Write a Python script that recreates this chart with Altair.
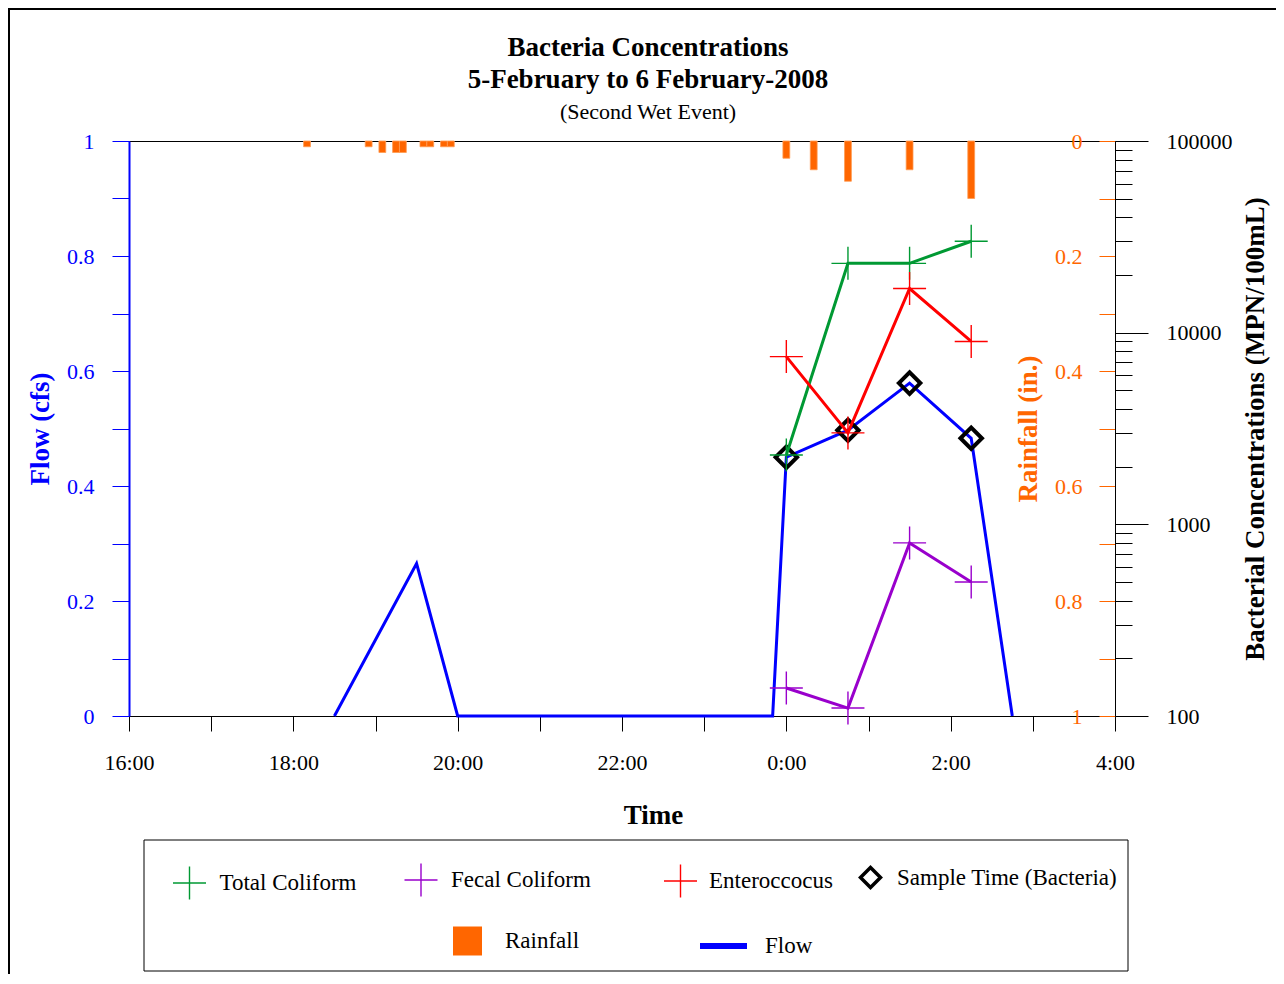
import altair as alt
import pandas as pd

# ---------------- data ----------------
flow_time = ["2008-02-05T18:30", "2008-02-05T19:30", "2008-02-05T20:00", "2008-02-05T23:50",
             "2008-02-06T00:00", "2008-02-06T00:45", "2008-02-06T01:30", "2008-02-06T02:15",
             "2008-02-06T02:45"]
flow_cfs = [0, 0.265, 0, 0, 0.45, 0.497, 0.579, 0.483, 0]

sample_time = ["2008-02-06T00:00", "2008-02-06T00:45", "2008-02-06T01:30", "2008-02-06T02:15"]
sample_flow = [0.45, 0.497, 0.579, 0.483]

total_coliform = [2300, 23000, 23000, 30000]
fecal_coliform = [140, 110, 800, 500]
enterococcus = [7500, 3000, 17000, 9000]

rain_time = ["2008-02-05T18:10", "2008-02-05T18:55", "2008-02-05T19:05", "2008-02-05T19:15",
             "2008-02-05T19:20", "2008-02-05T19:35", "2008-02-05T19:40", "2008-02-05T19:50",
             "2008-02-05T19:55", "2008-02-06T00:00", "2008-02-06T00:20", "2008-02-06T00:45",
             "2008-02-06T01:30", "2008-02-06T02:15"]
rain_in = [0.01, 0.01, 0.02, 0.02, 0.02, 0.01, 0.01, 0.01, 0.01, 0.03, 0.05, 0.07, 0.05, 0.10]

tick_hours = list(range(16, 29))
tenths = [round(i * 0.1, 1) for i in range(11)]
bact_major = [100, 1000, 10000, 100000]
bact_minor = [m * d for d in (100, 1000, 10000) for m in range(2, 10)]

# ---------------- styling ----------------
FONT = "Liberation Serif"
BLUE = "#0000FF"
ORANGE = "#FF6600"
GREEN = "#009933"
PURPLE = "#9900CC"
RED = "#FF0000"
CROSS = "M-1,0H1M0,-1V1"

W, H = 986, 575

rain_t = pd.to_datetime(pd.Series(rain_time))
rain_df = pd.DataFrame({
    "start": (rain_t - pd.Timedelta(minutes=2.5)).dt.strftime("%Y-%m-%dT%H:%M:%S"),
    "end": (rain_t + pd.Timedelta(minutes=2.5)).dt.strftime("%Y-%m-%dT%H:%M:%S"),
    "rain": rain_in,
    "series": "Rainfall",
})
flow_df = pd.DataFrame({"t": flow_time, "flow": flow_cfs, "series": "Flow"})
sample_df = pd.DataFrame({"t": sample_time, "flow": sample_flow, "series": "Sample Time (Bacteria)"})


def dt(h):
    return alt.DateTime(year=2008, month=2, date=5 + h // 24, hours=h % 24)


x_scale = alt.Scale(domain=[dt(16), dt(28)], padding=0)
x_axis = alt.Axis(
    values=[dt(h) for h in tick_hours],
    labelExpr="hours(datum.value) % 2 == 0 ? timeFormat(datum.value, '%-H:%M') : ''",
    tickSize=15, labelPadding=21, labelFlush=False, labelOverlap=False, grid=False,
    domainColor="black", tickColor="black", labelColor="black",
    title="Time", titleX=524, titleY=99, titleBaseline="middle", titleAlign="center",
)


def xenc(field):
    return alt.X(f"{field}:T", scale=x_scale, axis=x_axis)


def leg(x, y, **kw):
    return alt.Legend(orient="none", legendX=x, legendY=y, title=None, labelLimit=400, **kw)


# ---------------- rainfall ----------------
rain_axis = alt.Axis(
    orient="left", offset=-W, values=tenths, format="~g",
    labelExpr="round(datum.value * 10) % 2 == 0 ? datum.label : ''",
    tickSize=16, labelPadding=17, tickColor=ORANGE, labelColor=ORANGE, domain=False, grid=False,
    title="Rainfall (in.)", titleColor=ORANGE, titleX=-87, titleY=H / 2, titleAngle=270,
    titleAlign="center", titleBaseline="middle",
)
rain = alt.Chart(rain_df).mark_bar(color=ORANGE, stroke="#FF9A50", strokeWidth=0.8).encode(
    x=xenc("start"),
    x2="end:T",
    y=alt.Y("rain:Q", scale=alt.Scale(domain=[0, 1], reverse=True, nice=False, padding=0),
            axis=rain_axis),
    y2=alt.datum(0),
    color=alt.Color("series:N", scale=alt.Scale(domain=["Rainfall"], range=[ORANGE]),
                    legend=leg(324, 785.5, symbolType="square", symbolSize=841,
                               symbolStrokeWidth=0, labelOffset=23)),
)

# ---------------- flow ----------------
flow_axis = alt.Axis(
    orient="left", values=tenths, format="~g",
    labelExpr="round(datum.value * 10) % 2 == 0 ? datum.label : ''",
    tickSize=17, labelPadding=18, tickColor=BLUE, labelColor=BLUE, domainColor=BLUE, domainWidth=2,
    grid=False, title="Flow (cfs)", titleColor=BLUE, titleX=-89, titleY=H / 2, titleAngle=270,
    titleAlign="center", titleBaseline="middle",
)
flow_y = alt.Y("flow:Q", scale=alt.Scale(domain=[0, 1], nice=False, padding=0), axis=flow_axis)

flow_line = alt.Chart(flow_df).mark_line(strokeWidth=3).encode(
    x=xenc("t"),
    y=flow_y,
    color=alt.Color("series:N", scale=alt.Scale(domain=["Flow"], range=[BLUE]),
                    legend=leg(568, 778.5, symbolType="stroke", symbolSize=2209,
                               symbolStrokeWidth=6, labelOffset=15)),
)
diamonds = alt.Chart(sample_df).mark_point(shape="diamond", filled=False, size=460,
                                           strokeWidth=4, opacity=1).encode(
    x=xenc("t"),
    y=flow_y,
    color=alt.Color("series:N", scale=alt.Scale(domain=["Sample Time (Bacteria)"], range=["black"]),
                    legend=leg(729.5, 724.5, symbolType="diamond", symbolSize=400,
                               symbolStrokeWidth=3.5, labelOffset=14.5)),
)
flow_group = alt.layer(flow_line, diamonds).resolve_scale(color="independent")

# ---------------- bacteria ----------------
bact_scale = alt.Scale(type="log", domain=[100, 100000], nice=False, padding=0)
major_axis = alt.Axis(
    orient="right", values=bact_major, format="d", tickSize=33, labelPadding=18,
    tickColor="black", domainColor="black", labelColor="black", grid=False,
    title="Bacterial Concentrations (MPN/100mL)", titleX=140, titleY=H / 2, titleAngle=270,
    titleAlign="center", titleBaseline="middle",
)
minor_axis = alt.Axis(orient="right", values=bact_minor, tickSize=17, labels=False,
                      domain=False, grid=False, tickColor="black", title=None)

series = [
    ("Total Coliform", total_coliform, GREEN, 43, 724.5, 12.5),
    ("Fecal Coliform", fecal_coliform, PURPLE, 274.5, 721.5, 12.5),
    ("Enteroccocus", enterococcus, RED, 534, 722.5, 11),
]
bact_layers = []
for i, (name, vals, col, lx, ly, lo) in enumerate(series):
    df = pd.DataFrame({"t": sample_time, "mpn": vals, "series": name})
    ax_line = major_axis if i == 0 else None
    ax_pts = minor_axis if i == 0 else None
    line = alt.Chart(df).mark_line(color=col, strokeWidth=3).encode(
        x=xenc("t"),
        y=alt.Y("mpn:Q", scale=bact_scale, axis=ax_line),
    )
    pts = alt.Chart(df).mark_point(shape=CROSS, filled=False, size=1089, strokeWidth=1.4,
                                   opacity=1).encode(
        x=xenc("t"),
        y=alt.Y("mpn:Q", scale=bact_scale, axis=ax_pts),
        color=alt.Color("series:N", scale=alt.Scale(domain=[name], range=[col]),
                        legend=leg(lx, ly, symbolType=CROSS, symbolSize=1089,
                                   symbolStrokeWidth=1.4, labelOffset=lo)),
    )
    bact_layers += [line, pts]
bact_group = alt.layer(*bact_layers).resolve_scale(color="independent").resolve_axis(y="independent")

# ---------------- decorations ----------------
frame = alt.Chart(alt.Data(values=[{}])).mark_rect(fill="transparent", stroke="black",
                                                  strokeWidth=2).encode(
    x=alt.value(-120), x2=alt.value(1400), y=alt.value(-132), y2=alt.value(1200))
legend_box = alt.Chart(alt.Data(values=[{}])).mark_rect(fill="transparent", stroke="black",
                                                       strokeWidth=1).encode(
    x=alt.value(15), x2=alt.value(999), y=alt.value(699), y2=alt.value(830))

chart = alt.layer(frame, legend_box, rain, flow_group, bact_group).resolve_scale(
    y="independent", color="independent"
).properties(
    width=W, height=H,
    autosize=alt.AutoSizeParams(type="none"),
    padding={"left": 121, "top": 133, "right": 161, "bottom": 258},
    title=alt.TitleParams(
        text=["Bacteria Concentrations", "5-February to 6 February-2008"],
        subtitle="(Second Wet Event)",
        font=FONT, fontSize=27, fontWeight="bold", color="black", lineHeight=32,
        subtitleFont=FONT, subtitleFontSize=22, subtitleColor="black", subtitlePadding=8,
        anchor="middle", frame="group", dx=26, offset=-116,
    ),
).configure_view(stroke="black", strokeWidth=1).configure_axis(
    labelFont=FONT, labelFontSize=22, titleFont=FONT, titleFontSize=27, titleFontWeight="bold",
).configure_legend(
    labelFont=FONT, labelFontSize=23, labelColor="black", padding=0,
)

chart.save("out.html", embed_options={"renderer": "svg", "actions": False})
